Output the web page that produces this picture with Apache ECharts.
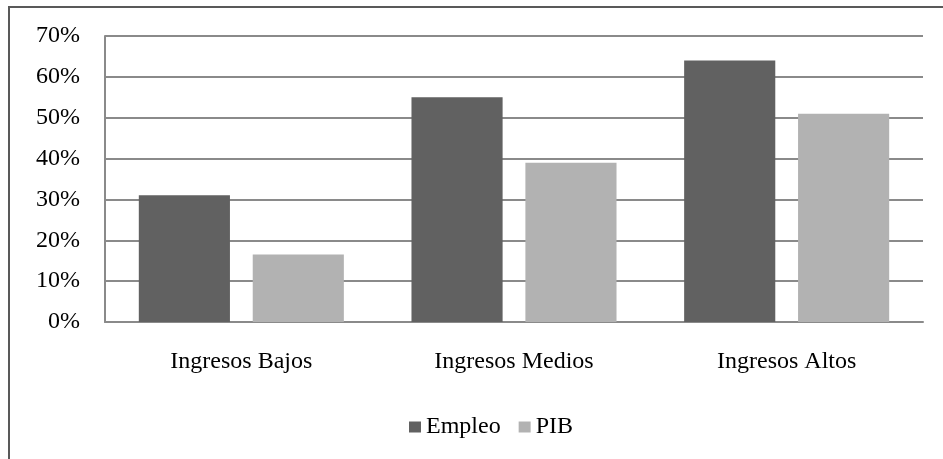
<!DOCTYPE html>
<html>
<head>
<meta charset="utf-8">
<script src="https://cdn.jsdelivr.net/npm/echarts@6/dist/echarts.min.js"></script>
<style>
  html, body { margin: 0; padding: 0; background: #fff; }
  #chart { width: 943px; height: 459px; }
</style>
</head>
<body>
<div id="chart"></div>
<script>
// Share of employment and GDP by income group (percent)
const categories = ['Ingresos Bajos', 'Ingresos Medios', 'Ingresos Altos'];
const empleo = [31, 55, 64];
const pib = [16.5, 39, 51];
const seriesNames = ['Empleo', 'PIB'];

const FONT = "'Liberation Serif', 'Times New Roman', serif";

const chart = echarts.init(document.getElementById('chart'), null, { renderer: 'canvas' });

chart.setOption({
  backgroundColor: '#ffffff',
  animation: false,
  textStyle: { fontFamily: FONT },
  graphic: [{
    type: 'rect',
    shape: { x: 9, y: 7, width: 1000, height: 500 },
    style: { fill: 'none', stroke: '#595959', lineWidth: 2 },
    silent: true
  }],
  legend: {
    data: seriesNames,
    left: 404,
    top: 410,
    itemWidth: 12,
    itemHeight: 11,
    itemGap: 18,
    icon: 'rect',
    textStyle: { fontFamily: FONT, fontSize: 24, color: '#000' }
  },
  grid: { left: 105, right: 20, top: 36, bottom: 137 },
  xAxis: {
    type: 'category',
    data: categories,
    axisLine: { lineStyle: { color: '#8a8a8a', width: 2 } },
    axisTick: { show: false },
    axisLabel: { fontFamily: FONT, fontSize: 24, color: '#000', margin: 28 }
  },
  yAxis: {
    type: 'value',
    min: 0, max: 70, interval: 10,
    axisLine: { show: true, lineStyle: { color: '#8a8a8a', width: 2 } },
    axisTick: { show: false },
    splitLine: { lineStyle: { color: '#8a8a8a', width: 2 } },
    axisLabel: { formatter: '{value}%', fontFamily: FONT, fontSize: 24, color: '#000', margin: 25 }
  },
  series: [
    {
      name: 'Empleo', type: 'bar', data: empleo,
      itemStyle: { color: '#616161' },
      barCategoryGap: '24.8%', barGap: '25%'
    },
    {
      name: 'PIB', type: 'bar', data: pib,
      itemStyle: { color: '#b2b2b2' },
      barCategoryGap: '24.8%', barGap: '25%'
    }
  ]
});
</script>
</body>
</html>
